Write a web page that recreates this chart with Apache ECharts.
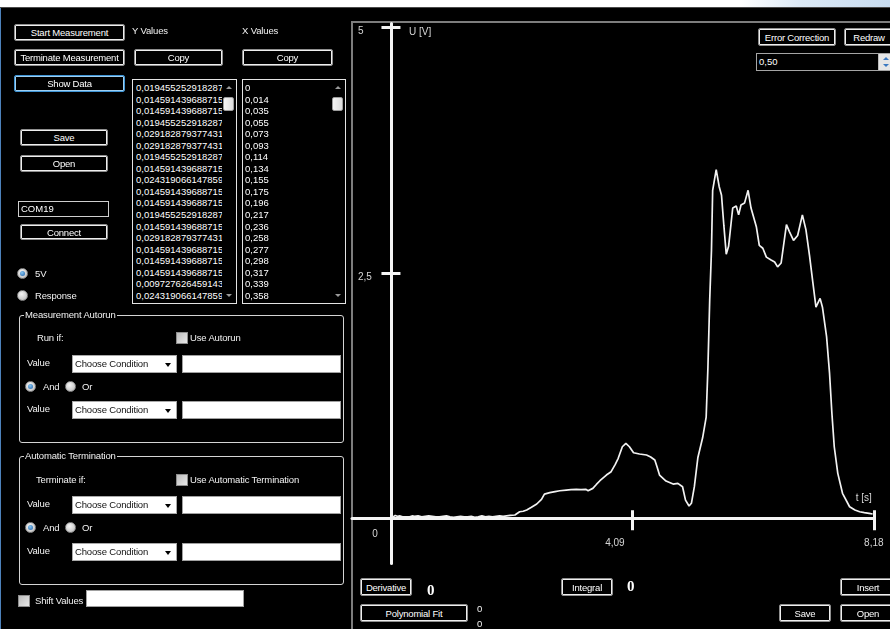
<!DOCTYPE html>
<html><head><meta charset="utf-8">
<script src="https://cdn.jsdelivr.net/npm/echarts@6/dist/echarts.min.js"></script>
<style>
html,body{margin:0;padding:0;width:890px;height:629px;overflow:hidden;background:#000;font-family:'Liberation Sans',Arial,sans-serif;}
#top{position:absolute;left:0;top:0;width:890px;height:7px;background:linear-gradient(to right,#fff 0,#fff 740px,#dce9f6 800px,#c8dcf0 890px);border-bottom:1px solid #4a4a4a;}
#edge{position:absolute;left:0;top:8px;width:1px;height:621px;background:#4d82bb;}
#panel{position:absolute;left:351px;top:21px;width:545px;height:620px;border-left:2px solid #7d7d7d;border-top:2px solid #7d7d7d;}
#chart{position:absolute;left:0;top:0;width:890px;height:629px;z-index:1;}
.ui{position:absolute;z-index:2;box-sizing:border-box;}
.btn{border:1px solid #8f8f8f;box-shadow:inset 0 0 0 1px #efefef;border-radius:2px;background:#000;color:#fff;font-size:9.5px;letter-spacing:-0.2px;display:flex;align-items:center;justify-content:center;white-space:nowrap;}
.btn.focus{border-color:#3f95d6;box-shadow:inset 0 0 0 1px #9fd0f2;}
.lbl{color:#f2f2f2;font-size:9.5px;letter-spacing:-0.15px;white-space:nowrap;line-height:12px;height:12px;}
.big{color:#fff;font-family:'Liberation Serif',serif;font-weight:bold;font-size:15px;line-height:16px;}
.list{border:1px solid #e4e4e4;background:#000;overflow:hidden;}
.list .txt{position:absolute;top:2px;color:#fff;font-size:9.5px;line-height:11.55px;white-space:nowrap;overflow:hidden;}
.sb{position:absolute;right:0;top:0;width:14px;height:100%;background:#000;}
.sb .up,.sb .dn{position:absolute;left:4px;width:0;height:0;border-left:3px solid transparent;border-right:3px solid transparent;}
.sb .up{top:6px;border-bottom:3px solid #9a9a9a;}
.sb .dn{bottom:6px;border-top:3px solid #9a9a9a;}
.sb .th{position:absolute;left:1px;top:17px;width:11px;height:14px;background:linear-gradient(to right,#f4f4f4,#dcdcdc);border:1px solid #9c9c9c;border-radius:2px;box-sizing:border-box;}
.radio{width:11px;height:11px;border-radius:50%;background:radial-gradient(circle at 40% 35%,#f6f6f6,#b5b5b5);border:1px solid #8a8a8a;}
.radio.on::after{content:'';position:absolute;left:2px;top:2px;width:5px;height:5px;border-radius:50%;background:radial-gradient(circle at 40% 35%,#86c6f2,#1c5ea8);}
.chk{width:12px;height:12px;border:1px solid #8d8d8d;background:linear-gradient(135deg,#bdbdbd,#e8e8e8);}
.grp{border:1px solid #d4d4d4;border-radius:3px;}
.gt{background:#000;padding:0 1px;}
.combo{background:#fff;border:1px solid #a9a9a9;color:#111;font-size:9.5px;letter-spacing:-0.15px;line-height:16px;padding-left:2px;white-space:nowrap;}
.combo::after{content:'';position:absolute;right:5px;top:7px;border-left:3.5px solid transparent;border-right:3.5px solid transparent;border-top:4px solid #000;}
.tb{background:#fff;border:1px solid #a0a0a0;}
.dark{background:#000;border:1px solid #cfcfcf;color:#fff;font-size:9.5px;line-height:14px;padding-left:2px;}
.num{background:#000;border:1px solid #a5a5a5;color:#fff;font-size:9.5px;line-height:16px;padding-left:2px;}
.spin{position:absolute;left:121px;top:0;width:14px;height:16px;background:#e6e6e6;border-left:1px solid #bbb;}
.spin .a{position:absolute;left:4px;width:0;height:0;border-left:3px solid transparent;border-right:3px solid transparent;}
</style>
</head><body>
<div id="top"></div>
<div id="edge"></div>
<div id="panel"></div>
<div id="chart"></div>

<!-- left panel -->
<div class="ui btn" style="left:14px;top:24px;width:111px;height:17px;">Start Measurement</div>
<div class="ui btn" style="left:14px;top:49px;width:111px;height:17px;">Terminate Measurement</div>
<div class="ui btn focus" style="left:14px;top:75px;width:111px;height:17px;">Show Data</div>
<div class="ui lbl" style="left:132px;top:25px;">Y Values</div>
<div class="ui lbl" style="left:242px;top:25px;">X Values</div>
<div class="ui btn" style="left:134px;top:49px;width:89px;height:17px;">Copy</div>
<div class="ui btn" style="left:242px;top:49px;width:91px;height:17px;">Copy</div>
<div class="ui list" style="left:132px;top:79px;width:105px;height:225px;">
  <div class="txt" id="ylist" style="left:3px;width:86px;"></div>
  <div class="sb"><div class="up"></div><div class="th"></div><div class="dn"></div></div>
</div>
<div class="ui list" style="left:242px;top:79px;width:104px;height:225px;">
  <div class="txt" id="xlist" style="left:2px;width:86px;"></div>
  <div class="sb"><div class="up"></div><div class="th"></div><div class="dn"></div></div>
</div>
<div class="ui btn" style="left:20px;top:129px;width:88px;height:17px;">Save</div>
<div class="ui btn" style="left:20px;top:155px;width:88px;height:17px;">Open</div>
<div class="ui dark" style="left:18px;top:201px;width:91px;height:16px;">COM19</div>
<div class="ui btn" style="left:20px;top:224px;width:88px;height:16px;">Connect</div>
<div class="ui radio on" style="left:17px;top:268px;"></div>
<div class="ui lbl" style="left:35px;top:268px;">5V</div>
<div class="ui radio" style="left:17px;top:290px;"></div>
<div class="ui lbl" style="left:35px;top:290px;">Response</div>

<div class="ui grp" style="left:19px;top:315px;width:325px;height:128px;"></div>
<div class="ui lbl gt" style="left:24px;top:309px;">Measurement Autorun</div>
<div class="ui lbl" style="left:37px;top:332px;">Run if:</div>
<div class="ui chk" style="left:176px;top:332px;"></div>
<div class="ui lbl" style="left:190px;top:332px;">Use Autorun</div>
<div class="ui lbl" style="left:27px;top:357px;">Value</div>
<div class="ui combo" style="left:72px;top:355px;width:105px;height:18px;">Choose Condition</div>
<div class="ui tb" style="left:182px;top:355px;width:159px;height:18px;"></div>
<div class="ui radio on" style="left:25px;top:381px;"></div>
<div class="ui lbl" style="left:43px;top:381px;">And</div>
<div class="ui radio" style="left:65px;top:381px;"></div>
<div class="ui lbl" style="left:82px;top:381px;">Or</div>
<div class="ui lbl" style="left:27px;top:403px;">Value</div>
<div class="ui combo" style="left:72px;top:401px;width:105px;height:18px;">Choose Condition</div>
<div class="ui tb" style="left:182px;top:401px;width:159px;height:18px;"></div>

<div class="ui grp" style="left:19px;top:456px;width:325px;height:129px;"></div>
<div class="ui lbl gt" style="left:24px;top:450px;">Automatic Termination</div>
<div class="ui lbl" style="left:36px;top:474px;">Terminate if:</div>
<div class="ui chk" style="left:176px;top:474px;"></div>
<div class="ui lbl" style="left:190px;top:474px;">Use Automatic Termination</div>
<div class="ui lbl" style="left:27px;top:498px;">Value</div>
<div class="ui combo" style="left:72px;top:496px;width:105px;height:18px;">Choose Condition</div>
<div class="ui tb" style="left:182px;top:496px;width:159px;height:18px;"></div>
<div class="ui radio on" style="left:25px;top:522px;"></div>
<div class="ui lbl" style="left:43px;top:522px;">And</div>
<div class="ui radio" style="left:65px;top:522px;"></div>
<div class="ui lbl" style="left:82px;top:522px;">Or</div>
<div class="ui lbl" style="left:27px;top:545px;">Value</div>
<div class="ui combo" style="left:72px;top:543px;width:105px;height:18px;">Choose Condition</div>
<div class="ui tb" style="left:182px;top:543px;width:159px;height:18px;"></div>

<div class="ui chk" style="left:18px;top:595px;"></div>
<div class="ui lbl" style="left:35px;top:595px;">Shift Values</div>
<div class="ui tb" style="left:86px;top:590px;width:158px;height:17px;"></div>

<!-- chart panel controls -->
<div class="ui btn" style="left:758px;top:28px;width:78px;height:18px;">Error Correction</div>
<div class="ui btn" style="left:844px;top:28px;width:50px;height:18px;">Redraw</div>
<div class="ui num" style="left:756px;top:53px;width:140px;height:18px;">0,50
  <div class="spin"><div class="a" style="top:3px;border-bottom:3px solid #3a78c0;"></div><div class="a" style="top:10px;border-top:3px solid #3a78c0;"></div></div>
</div>
<div class="ui btn" style="left:360px;top:578px;width:52px;height:18px;">Derivative</div>
<div class="ui big" style="left:427px;top:582px;">0</div>
<div class="ui btn" style="left:561px;top:578px;width:52px;height:18px;">Integral</div>
<div class="ui big" style="left:627px;top:578px;">0</div>
<div class="ui btn" style="left:840px;top:578px;width:56px;height:18px;">Insert</div>
<div class="ui btn" style="left:360px;top:604px;width:108px;height:18px;">Polynomial Fit</div>
<div class="ui lbl" style="left:477px;top:603px;">0</div>
<div class="ui lbl" style="left:477px;top:618px;">0</div>
<div class="ui btn" style="left:779px;top:604px;width:52px;height:18px;">Save</div>
<div class="ui btn" style="left:840px;top:604px;width:56px;height:18px;">Open</div>

<script>
// ---- data (time in s, voltage in V) ----
const times = [
  0, 0.014, 0.035, 0.055, 0.073, 0.093, 0.114, 0.134, 0.155, 0.175,
  0.196, 0.217, 0.236, 0.258, 0.277, 0.298, 0.317, 0.339, 0.358,
  0.40, 0.46, 0.52, 0.58, 0.64, 0.70, 0.76, 0.82, 0.88, 0.94,
  1.00, 1.06, 1.12, 1.18, 1.24, 1.30, 1.36, 1.42, 1.48, 1.54,
  1.60, 1.66, 1.72, 1.78, 1.84, 1.90, 1.96, 2.02,
  2.10, 2.18, 2.24, 2.30, 2.38, 2.47, 2.55, 2.60, 2.69, 2.78,
  2.86, 2.97, 3.05, 3.14, 3.22, 3.30, 3.34, 3.42, 3.48, 3.54,
  3.65, 3.73, 3.80, 3.85, 3.92, 3.98, 4.04, 4.11, 4.21, 4.33,
  4.40, 4.47, 4.51, 4.55, 4.66, 4.78, 4.86, 4.94, 4.99, 5.05,
  5.09, 5.14, 5.20, 5.28, 5.34, 5.37, 5.40, 5.43, 5.45, 5.51,
  5.56, 5.60, 5.64, 5.68, 5.72, 5.79, 5.85, 5.89, 5.93, 5.99,
  6.05, 6.10, 6.19, 6.24, 6.30, 6.36, 6.44, 6.50, 6.55, 6.61,
  6.70, 6.75, 6.82, 6.89, 6.97, 7.03, 7.09, 7.15, 7.20, 7.27,
  7.31, 7.38, 7.43, 7.47, 7.51, 7.57, 7.65, 7.77, 7.86, 7.94,
  8.02, 8.10, 8.16
];
const volts = [
  0.0194552529182879, 0.0145914396887159, 0.0145914396887159, 0.0194552529182879, 0.0291828793774319,
  0.0291828793774319, 0.0194552529182879, 0.0145914396887159, 0.0243190661478599, 0.0145914396887159,
  0.0145914396887159, 0.0194552529182879, 0.0145914396887159, 0.0291828793774319, 0.0145914396887159,
  0.0145914396887159, 0.0145914396887159, 0.00972762645914397, 0.0243190661478599,
  0.0195, 0.0243, 0.0146, 0.0195, 0.0243, 0.0195, 0.0146, 0.0146, 0.0195, 0.0243,
  0.0146, 0.0097, 0.0146, 0.0195, 0.0146, 0.0146, 0.0195, 0.0097, 0.0146, 0.0243,
  0.0146, 0.0195, 0.0146, 0.0195, 0.0243, 0.0195, 0.0243, 0.0292,
  0.034, 0.067, 0.072, 0.085, 0.112, 0.146, 0.193, 0.247, 0.261, 0.272,
  0.281, 0.288, 0.292, 0.295, 0.292, 0.295, 0.281, 0.305, 0.345, 0.383,
  0.441, 0.475, 0.55, 0.611, 0.729, 0.764, 0.729, 0.668, 0.655, 0.645,
  0.625, 0.594, 0.52, 0.441, 0.380, 0.349, 0.356, 0.322, 0.186, 0.125,
  0.153, 0.322, 0.62, 0.82, 1.03, 1.54, 2.22, 2.73, 3.34, 3.55,
  3.38, 3.29, 2.98, 2.69, 2.77, 3.16, 3.18, 3.09, 3.19, 3.21,
  3.34, 3.16, 2.97, 2.78, 2.75, 2.66, 2.63, 2.61, 2.56, 2.60,
  2.99, 2.92, 2.83, 2.88, 3.09, 2.94, 2.68, 2.39, 2.15, 2.24,
  2.15, 1.85, 1.48, 1.07, 0.729, 0.458, 0.255, 0.118, 0.085, 0.067,
  0.058, 0.051, 0.044
];
const xTickValues = [0, 4.09, 8.18];
const xTickLabels = ['0', '4,09', '8,18'];
const yTickValues = [2.5, 5];
const yTickLabels = ['2,5', '5'];
const listRows = 19;

// ---- data lists in the left panel ----
const fmt = v => String(v).replace('.', ',');
document.getElementById('ylist').innerHTML =
  volts.slice(0, listRows).map(v => '<div>' + fmt(v) + '</div>').join('');
document.getElementById('xlist').innerHTML =
  times.slice(0, listRows).map(v => '<div>' + fmt(v) + '</div>').join('');

// ---- chart ----
const FONT = 'Liberation Sans';
const LC = '#d6d6d6';
const AC = '#f4f4f4';
const seriesData = times.map((t, i) => [t, volts[i]]);
const nearestIdx = (arr, v) => {
  let b = 0;
  arr.forEach((a, i) => { if (Math.abs(a - v) < Math.abs(arr[b] - v)) b = i; });
  return b;
};
const xKeys = ['a', 'b', 'c'];

const chart = echarts.init(document.getElementById('chart'), null, {renderer: 'canvas'});
chart.setOption({
  animation: false,
  backgroundColor: 'transparent',
  grid: {left: 352, top: 23.4, right: 16.2, bottom: 65.5, containLabel: false, outerBoundsMode: 'none'},
  xAxis: [
    {
      type: 'value', min: -0.66, max: 8.18, position: 'bottom',
      axisLine: {show: true, onZero: true, onZeroAxisIndex: 0, lineStyle: {color: AC, width: 3}},
      axisTick: {show: true, customValues: xTickValues.slice(1), length: 12, lineStyle: {color: AC, width: 3}},
      axisLabel: {
        show: true, customValues: xTickValues, margin: -34,
        formatter: v => { const i = nearestIdx(xTickValues, v); return '{' + xKeys[i] + '|' + xTickLabels[i] + '}'; },
        rich: {
          a: {color: LC, fontSize: 10, fontFamily: FONT, padding: [0, 32, 0, 0]},
          b: {color: LC, fontSize: 10, fontFamily: FONT, padding: [9, 35, 0, 0]},
          c: {color: LC, fontSize: 10, fontFamily: FONT, padding: [9, 0, 0, 0]}
        }
      },
      splitLine: {show: false},
      name: 't [s]', nameLocation: 'end', nameGap: -2, nameMoveOverlap: false,
      nameTextStyle: {color: LC, fontSize: 10, fontFamily: FONT, align: 'right', verticalAlign: 'bottom', padding: [0, 0, 15, 0]}
    },
    {
      type: 'value', min: -0.66, max: 8.18, position: 'top',
      axisLine: {show: false, onZero: true, onZeroAxisIndex: 0},
      axisTick: {show: true, customValues: xTickValues.slice(1), length: 8, lineStyle: {color: AC, width: 3}},
      axisLabel: {show: false},
      splitLine: {show: false}
    }
  ],
  yAxis: [
    {
      type: 'value', min: -0.46, max: 5.04, position: 'left',
      axisLine: {show: true, onZero: true, onZeroAxisIndex: 0, lineStyle: {color: AC, width: 3}},
      axisTick: {show: true, customValues: yTickValues, length: 9.5, lineStyle: {color: AC, width: 3}},
      axisLabel: {
        show: true, customValues: yTickValues, align: 'left', margin: -6,
        formatter: v => '{a|' + yTickLabels[nearestIdx(yTickValues, v)] + '}',
        rich: {a: {color: LC, fontSize: 10, fontFamily: FONT, padding: [8, 0, 0, 0]}}
      },
      splitLine: {show: false},
      name: 'U [V]', nameLocation: 'end', nameGap: -9, nameMoveOverlap: false,
      nameTextStyle: {color: LC, fontSize: 10, fontFamily: FONT, align: 'left', verticalAlign: 'middle', padding: [0, 0, 0, 18]}
    },
    {
      type: 'value', min: -0.46, max: 5.04, position: 'right',
      axisLine: {show: false, onZero: true, onZeroAxisIndex: 0},
      axisTick: {show: true, customValues: yTickValues, length: 9.5, lineStyle: {color: AC, width: 3}},
      axisLabel: {show: false},
      splitLine: {show: false}
    }
  ],
  series: [{
    type: 'line', xAxisIndex: 0, yAxisIndex: 0,
    data: seriesData, showSymbol: false, symbol: 'none', silent: true,
    lineStyle: {color: '#f2f2f2', width: 1.7}
  }]
});
</script>
</body></html>
